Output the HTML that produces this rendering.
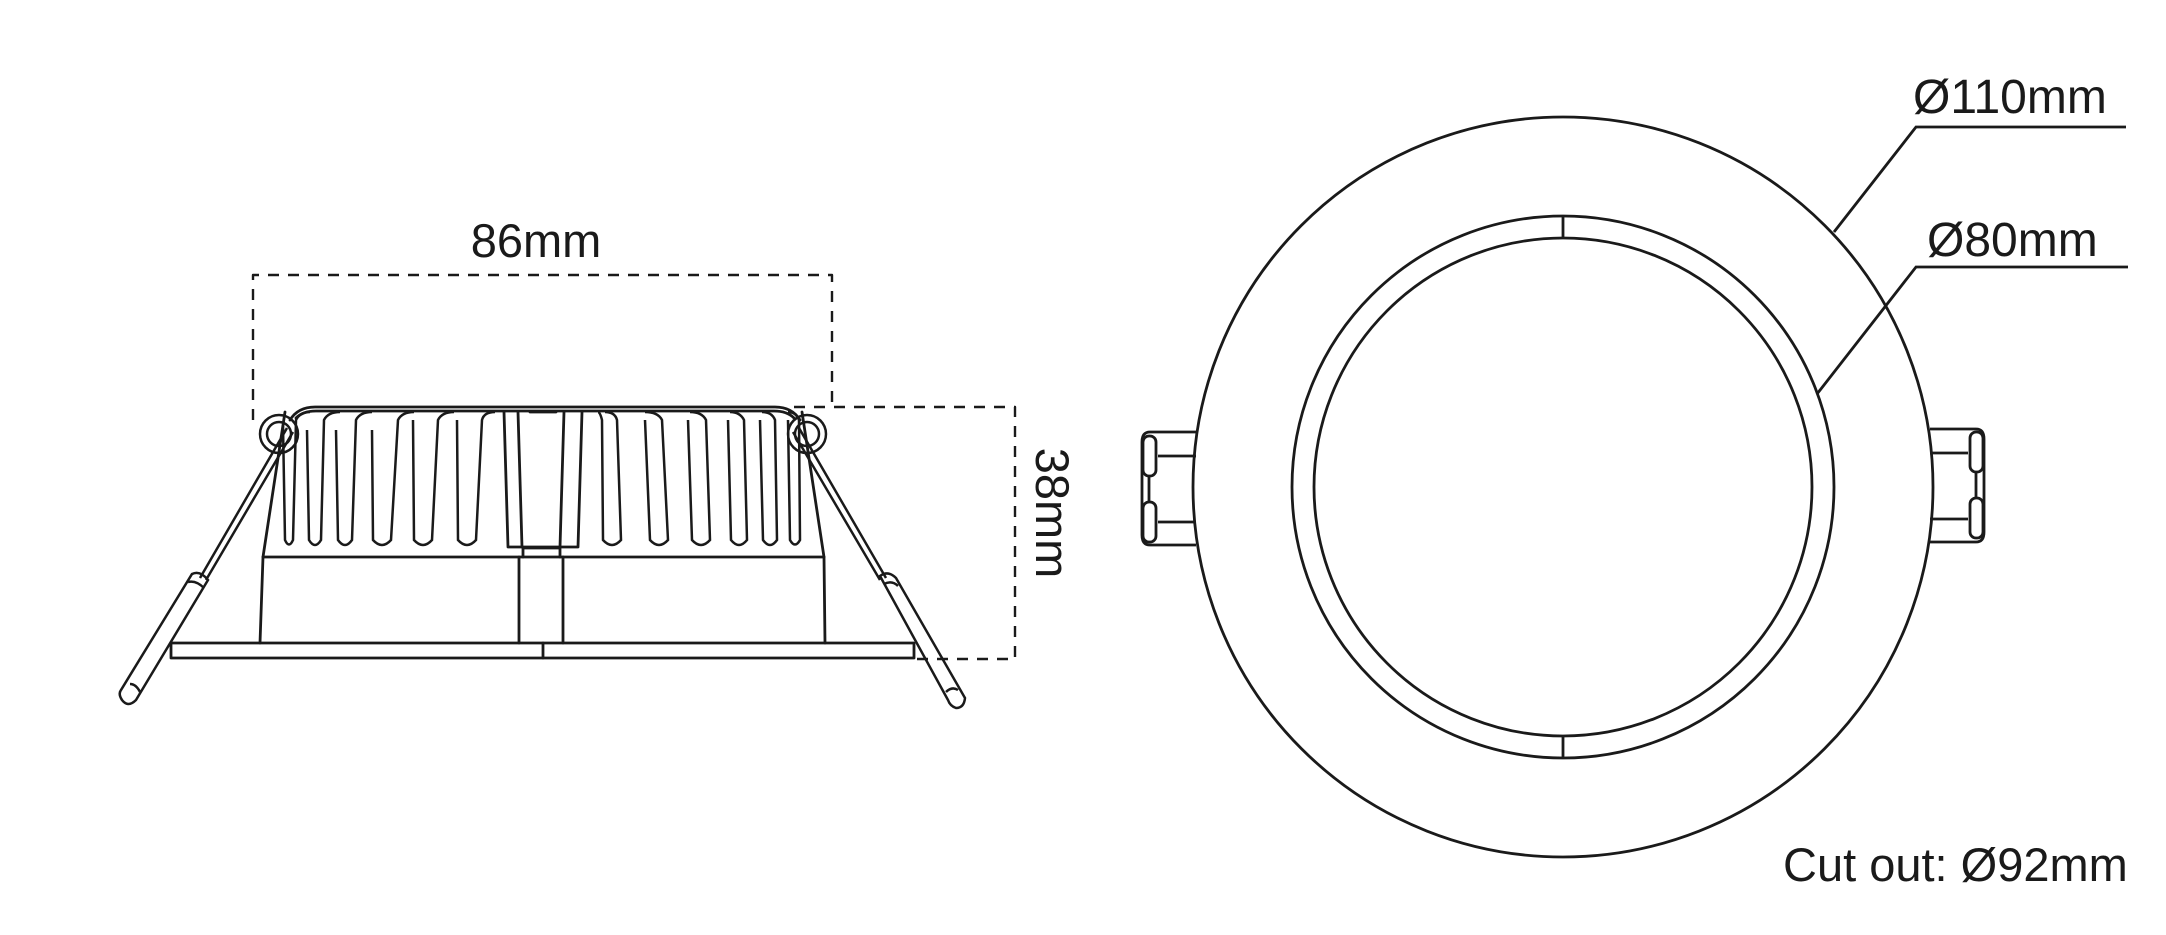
<!DOCTYPE html>
<html><head><meta charset="utf-8"><style>
html,body{margin:0;padding:0;background:#fff;}
svg{display:block;}
text{font-family:"Liberation Sans",Arial,sans-serif;fill:#1a1a1a;}
</style></head><body>
<svg width="2166" height="935" viewBox="0 0 2166 935" xmlns="http://www.w3.org/2000/svg">
<g fill="none" stroke="#1a1a1a" stroke-width="2.8" stroke-linecap="round" stroke-linejoin="round">
<g stroke-dasharray="11 9" stroke-width="2.4" stroke-linecap="butt">
<path d="M253 420 V275 H832 V402"/>
<path d="M794 407 H1015 V659 H912"/>
</g>
<rect x="171" y="643" width="743" height="15"/>
<line x1="543" y1="643" x2="543" y2="658"/>
<path d="M260 643 L263 557 L285 412"/>
<path d="M825 643 L824 557 L802 412"/>
<line x1="263" y1="557" x2="824" y2="557"/>
<path d="M519 643 V557 M563 643 V557 M523 557 V548 H560 V557"/>
<path d="M290 420 Q298 407 315 407 H775 Q792 407 800 420"/>
<path d="M296 418 Q303 411 316 411 H774 Q787 411 794 418"/>
<path d="M504 412 L508 547 H578 L582 412"/>
<path d="M518 412 L522 547 M564 412 L560 547 M530 412 H556"/>
</g>
<g fill="none" stroke="#1a1a1a" stroke-width="2.5">
<path d="M283 425 L285 540 Q289 549 293 540 L296 420 Q300 412 310 412"/>
<path d="M307 430 L309 540 Q315 550 321 540 L324 420 Q328 412 340 412"/>
<path d="M336 430 L338 540 Q345 550 352 540 L356 420 Q360 412 372 412"/>
<path d="M372 430 L373 540 Q382 550 391 540 L398 420 Q402 412 414 412"/>
<path d="M413 420 L414 540 Q423 550 432 540 L438 420 Q442 412 454 412"/>
<path d="M457 420 L458 540 Q467 550 476 540 L482 420 Q484 412 495 412"/>
<path d="M598 412 Q600 412 602 420 L603 540 Q612 550 621 540 L617 420 Q615 412 605 412"/>
<path d="M645 420 L650 540 Q659 550 668 540 L662 420 Q658 412 645 412"/>
<path d="M688 420 L692 540 Q701 550 710 540 L706 420 Q702 412 690 412"/>
<path d="M728 420 L731 540 Q739 550 747 540 L744 420 Q740 412 730 412"/>
<path d="M760 420 L763 540 Q770 550 777 540 L775 420 Q772 412 762 412"/>
<path d="M788 420 L790 540 Q795 549 800 540 L799 420 Q796 412 788 412"/>
<circle cx="279" cy="434" r="19"/>
<circle cx="279" cy="434" r="12"/>
<circle cx="807" cy="434" r="19"/>
<circle cx="807" cy="434" r="12"/>
<path d="M287 428 L200 578 M293 432 L206 580"/>
<path d="M799 428 L886 578 M793 432 L880 580"/>
<path d="M192 574 Q200 570 208 580 L136 700 Q128 708 122 700 Q118 694 121 690 Z"/>
<path d="M188 582 Q196 580 204 588 M130 684 Q136 684 140 692"/>
<path d="M880 576 Q888 570 896 578 L965 698 Q964 708 956 708 Q950 706 948 700 Z"/>
<path d="M884 584 Q892 580 898 586 M946 692 Q952 686 958 690"/>
</g>
<text x="536" y="257" font-size="47" text-anchor="middle">86mm</text>
<text transform="translate(1036,513) rotate(90)" font-size="47" text-anchor="middle">38mm</text>

<g fill="none" stroke="#1a1a1a" stroke-width="2.8">
<circle cx="1563" cy="487" r="370"/>
<circle cx="1563" cy="487" r="271"/>
<circle cx="1563" cy="487" r="249"/>
<line x1="1563" y1="217" x2="1563" y2="239"/>
<line x1="1563" y1="736" x2="1563" y2="758"/>
<path d="M1834 232 L1916 127 H2126"/>
<path d="M1817 394 L1916 267 H2128"/>
<path d="M1196 432 H1150 Q1142 432 1142 442 V535 Q1142 545 1150 545 H1196"/>
<path d="M1196 456 H1158 M1196 522 H1158"/>
<rect x="1143" y="436" width="13" height="40" rx="6"/>
<rect x="1143" y="502" width="13" height="40" rx="6"/>
<line x1="1149" y1="476" x2="1149" y2="502"/>
<path d="M1930 429 H1976 Q1984 429 1984 439 V532 Q1984 542 1976 542 H1930"/>
<path d="M1930 453 H1968 M1930 519 H1968"/>
<rect x="1970" y="432" width="13" height="40" rx="6"/>
<rect x="1970" y="498" width="13" height="40" rx="6"/>
<line x1="1976" y1="472" x2="1976" y2="498"/>
</g>
<text x="1913" y="113" font-size="48">Ø110mm</text>
<text x="1927" y="256" font-size="48">Ø80mm</text>
<text x="1783" y="881" font-size="47">Cut out: Ø92mm</text>
</svg>
</body></html>
